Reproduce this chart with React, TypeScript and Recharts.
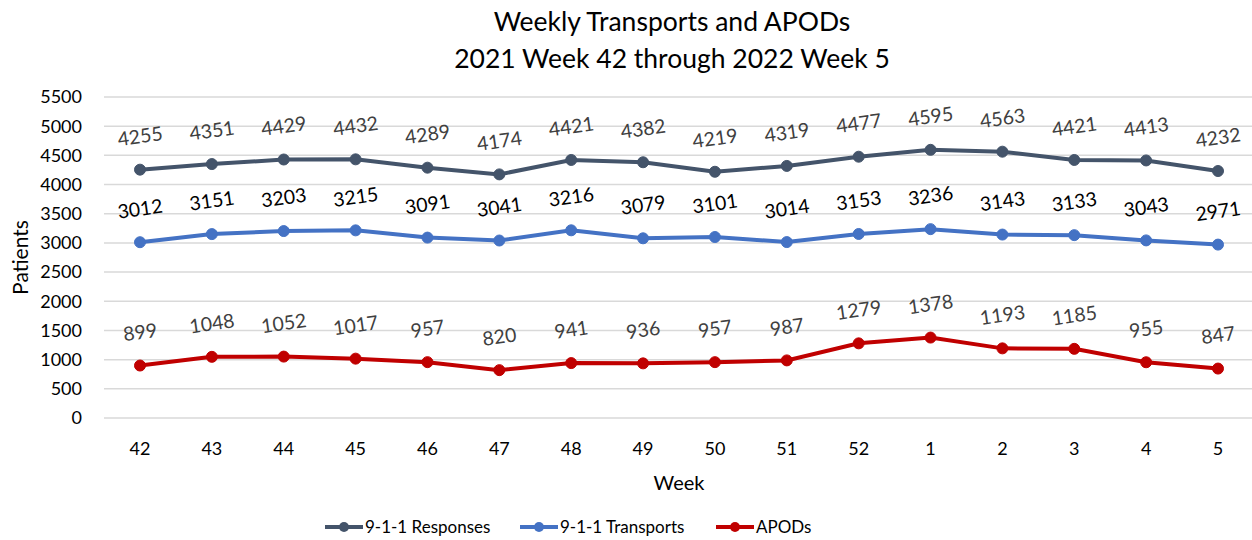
import React from 'react';
import { LineChart, Line, XAxis, YAxis, CartesianGrid, Legend, Label } from 'recharts';

const weeks = ['42', '43', '44', '45', '46', '47', '48', '49', '50', '51', '52', '1', '2', '3', '4', '5'];
const responses = [4255, 4351, 4429, 4432, 4289, 4174, 4421, 4382, 4219, 4319, 4477, 4595, 4563, 4421, 4413, 4232];
const transports = [3012, 3151, 3203, 3215, 3091, 3041, 3216, 3079, 3101, 3014, 3153, 3236, 3143, 3133, 3043, 2971];
const apods = [899, 1048, 1052, 1017, 957, 820, 941, 936, 957, 987, 1279, 1378, 1193, 1185, 955, 847];
const yTicks = [0, 500, 1000, 1500, 2000, 2500, 3000, 3500, 4000, 4500, 5000, 5500];

const data = weeks.map((w, i) => ({
  week: w,
  responses: responses[i],
  transports: transports[i],
  apods: apods[i],
}));

const FONT = 'Lato, "Open Sans", sans-serif';

const makeLabel = (color: string) => (props: any) => {
  const { x, y, value } = props;
  const cx = x;
  const cy = y - 34;
  return (
    <text
      x={cx}
      y={cy}
      transform={`rotate(-8, ${cx}, ${cy})`}
      textAnchor="middle"
      dominantBaseline="central"
      fill={color}
      fontSize={19.5}
      fontFamily={FONT}
    >
      {value}
    </text>
  );
};

const series = [
  { key: 'responses', name: '9-1-1 Responses', color: '#44546A', labelColor: '#404040' },
  { key: 'transports', name: '9-1-1 Transports', color: '#4472C4', labelColor: '#000000' },
  { key: 'apods', name: 'APODs', color: '#C00000', labelColor: '#404040' },
];

const itemWidths = [195, 196, 120];

const LegendContent = () => (
  <div
    style={{
      display: 'flex',
      justifyContent: 'flex-start',
      alignItems: 'center',
      fontFamily: FONT,
      fontSize: 17,
      color: '#000',
      paddingLeft: 325,
      paddingTop: 8,
      lineHeight: '22px',
    }}
  >
    {series.map((s, i) => (
      <div key={s.key} style={{ display: 'flex', alignItems: 'center', width: itemWidths[i] }}>
        <svg width={38} height={14} style={{ marginRight: 2 }}>
          <line x1={0} y1={7} x2={38} y2={7} stroke={s.color} strokeWidth={4} />
          <circle cx={19} cy={7} r={5} fill={s.color} />
        </svg>
        <span style={{ whiteSpace: 'nowrap' }}>{s.name}</span>
      </div>
    ))}
  </div>
);

export default function App() {
  return (
    <div style={{ position: 'fixed', left: 0, top: 0, width: 1252, height: 540, overflow: 'hidden', background: '#fff' }}>
      <div
        style={{
          position: 'absolute',
          left: 0,
          width: 1344,
          top: 3,
          textAlign: 'center',
          fontFamily: FONT,
          fontSize: 26.5,
          lineHeight: '37px',
          color: '#000',
        }}
      >
        <div>Weekly Transports and APODs</div>
        <div>2021 Week 42 through 2022 Week 5</div>
      </div>
      <LineChart
        width={1262}
        height={540}
        data={data}
        margin={{ top: 97, right: 8, left: 0, bottom: 0 }}
      >
        <CartesianGrid horizontal vertical={false} stroke="#d9d9d9" strokeWidth={1.5} />
        <XAxis
          dataKey="week"
          axisLine={false}
          tickLine={false}
          tickSize={0}
          tickMargin={24}
          padding={{ left: 36, right: 36 }}
          height={90}
          tick={{ fill: '#000', fontSize: 18, fontFamily: FONT }}
          interval={0}
        >
          <Label value="Week" position="insideBottom" offset={18} style={{ fill: '#000', fontSize: 20, fontFamily: FONT }} />
        </XAxis>
        <YAxis
          domain={[0, 5500]}
          ticks={yTicks}
          interval={0}
          axisLine={false}
          tickLine={false}
          tickSize={0}
          tickMargin={22}
          width={104}
          tick={{ fill: '#000', fontSize: 18, fontFamily: FONT }}
        >
          <Label
            value="Patients"
            angle={-90}
            position="insideLeft"
            offset={0}
            dx={21}
            style={{ fill: '#000', fontSize: 21, fontFamily: FONT, textAnchor: 'middle' }}
          />
        </YAxis>
        <Legend verticalAlign="bottom" height={32} content={<LegendContent />} />
        {series.map((s) => (
          <Line
            key={s.key}
            type="linear"
            dataKey={s.key}
            name={s.name}
            stroke={s.color}
            strokeWidth={4}
            dot={{ r: 5.5, fill: s.color, stroke: s.color, strokeWidth: 1 }}
            activeDot={false}
            isAnimationActive={false}
            label={makeLabel(s.labelColor)}
          />
        ))}
      </LineChart>
    </div>
  );
}
